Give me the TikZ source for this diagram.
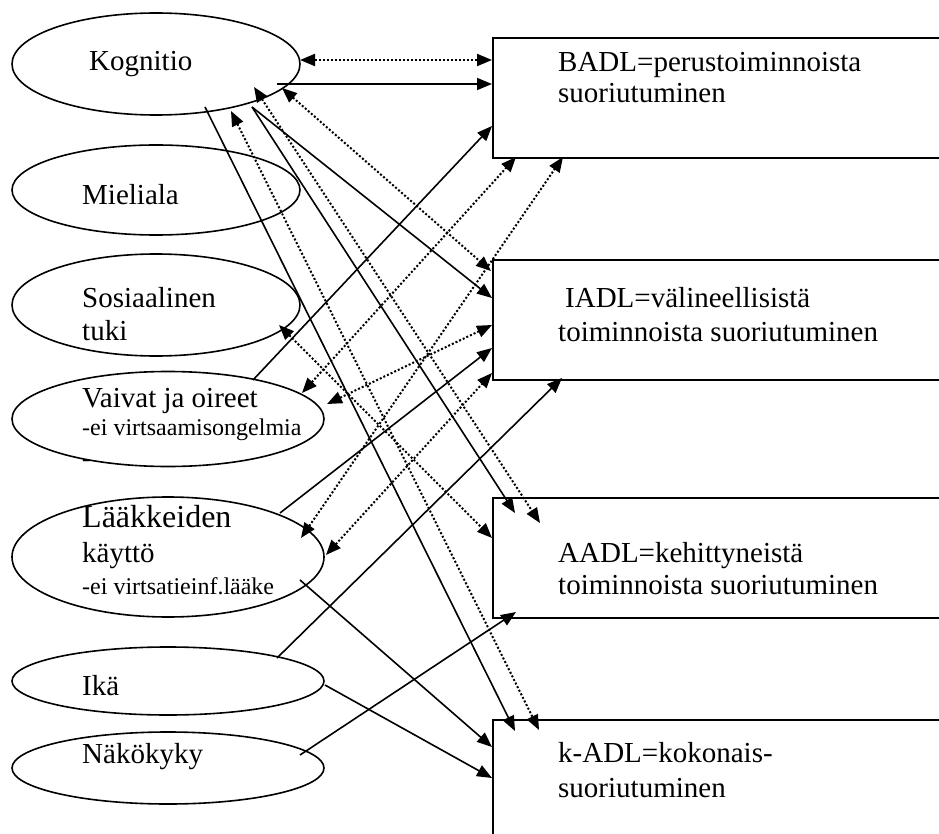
\documentclass[tikz,border=0pt]{standalone}
\usepackage{fontspec}
\setmainfont{Liberation Serif}
\usetikzlibrary{shapes.geometric,arrows.meta,calc}

\begin{document}
\begin{tikzpicture}[x=1pt,y=-1pt,
  factor/.style={ellipse,draw,line width=1.6pt,inner sep=0pt},
  outcome/.style={rectangle,draw,line width=1.6pt,inner sep=0pt,anchor=north west,minimum width=470pt},
  lbl/.style={anchor=base west,inner sep=0pt,font=\fontsize{29}{33}\selectfont},
  lblsmall/.style={anchor=base west,inner sep=0pt,font=\fontsize{24}{27}\selectfont},
  lblbig/.style={anchor=base west,inner sep=0pt,font=\fontsize{32}{36}\selectfont},
  tip/.style={Triangle[length=15pt,width=12pt]},
  effect/.style={line width=1.6pt,-{Triangle[length=15pt,width=12pt]}},
  assoc/.style={line width=2pt,dash pattern=on 2pt off 2pt,
    {Triangle[length=15pt,width=12pt]}-{Triangle[length=15pt,width=12pt]}},
]
\useasboundingbox (0,0) rectangle (939,834);
\fill[white] (0,0) rectangle (939,834);
\clip (0,0) rectangle (939,834);

% explanatory factors
\node[factor,minimum width=288pt,minimum height=102pt] (kog)  at (156,64)  {};
\node[factor,minimum width=288pt,minimum height=90pt]  (miel) at (156,190) {};
\node[factor,minimum width=288pt,minimum height=102pt] (sos)  at (156,305) {};
\node[factor,minimum width=312pt,minimum height=95pt]  (vaiv) at (168,419) {};
\node[factor,minimum width=312pt,minimum height=120pt] (laak) at (168,557) {};
\node[factor,minimum width=312pt,minimum height=68pt]  (ika)  at (168,681) {};
\node[factor,minimum width=312pt,minimum height=72pt]  (nako) at (168,768) {};

\node[lbl] (tkog)  at (89,71)  {Kognitio};
\node[lbl] (tmiel) at (82,205) {Mieliala};
\node[lbl] (tsosa) at (82,307) {Sosiaalinen};
\node[lbl] (tsosb) at (82,340) {tuki};
\node[lbl] (tvaiva) at (82,407) {Vaivat ja oireet};
\node[lblsmall] (tvaivb) at (82,435) {-ei virtsaamisongelmia};
\node[lblsmall] (tvaivc) at (82,466) {-};
\node[lblbig] (tlaaka) at (82,527) {Lääkkeiden};
\node[lbl] (tlaakb) at (82,562) {käyttö};
\node[lblsmall] (tlaakc) at (82,594) {-ei virtsatieinf.lääke};
\node[lbl] (tika)  at (82,695) {Ikä};
\node[lbl] (tnako) at (82,763) {Näkökyky};

% outcome measures
\node[outcome,minimum height=120pt] (badl) at (492,37)  {};
\node[outcome,minimum height=120pt] (iadl) at (492,259) {};
\node[outcome,minimum height=120pt] (aadl) at (492,497) {};
\node[outcome,minimum height=160pt] (kadl) at (492,719) {};

\node[lbl] (tbadla) at (558,72)  {BADL=perustoiminnoista};
\node[lbl] (tbadlb) at (558,103) {suoriutuminen};
\node[lbl] (tiadla) at (565,307) {IADL=välineellisistä};
\node[lbl] (tiadlb) at (558,341) {toiminnoista suoriutuminen};
\node[lbl] (taadla) at (558,562) {AADL=kehittyneistä};
\node[lbl] (taadlb) at (558,594) {toiminnoista suoriutuminen};
\node[lbl] (tkadla) at (558,762) {k-ADL=kokonais-};
\node[lbl] (tkadlb) at (558,797) {suoriutuminen};

% Kognitio
\draw[assoc]  ($(kog)+(144,-4)$) -- ($(badl.north west)+(0,23)$);
\draw[effect] ($(kog)+(121,20)$) -- ($(badl.north west)+(0,47)$);
\draw[assoc]  ($(kog)+(126,24)$) -- ($(iadl.north west)+(-1,12)$);
\draw[assoc]  ($(kog)+(98,23)$)  -- ($(aadl.north west)+(48,26)$);
\draw[assoc]  ($(kog)+(75,47)$)  -- ($(kadl.north west)+(47,11)$);
\draw[effect] ($(kog)+(49,43)$)  -- ($(kadl.north west)+(23,12)$);
\draw[effect] ($(kog)+(96,43)$)  -- ($(aadl.north west)+(23,16)$);
\draw[effect] ($(kog)+(96,43)$)  -- ($(iadl.north west)+(0,39)$);

% Sosiaalinen tuki
\draw[assoc]  ($(sos)+(123,20)$) -- ($(aadl.north west)+(0,41)$);

% Vaivat ja oireet
\draw[effect] ($(vaiv)+(85,-39)$)  -- ($(badl.north west)+(0,89)$);
\draw[assoc]  ($(vaiv)+(134,-26)$) -- ($(badl.north west)+(24,120)$);
\draw[assoc]  ($(vaiv)+(159,-15)$) -- ($(iadl.north west)+(0,66)$);

% Lääkkeiden käyttö
\draw[assoc]  ($(laak)+(133,-19)$) -- ($(badl.north west)+(71,120)$);
\draw[assoc]  ($(laak)+(158,-2)$)  -- ($(iadl.north west)+(0,114)$);
\draw[effect] ($(laak)+(112,-44)$) -- ($(iadl.north west)+(0,89)$);
\draw[effect] ($(laak)+(132,23)$)  -- ($(kadl.north west)+(0,28)$);

% Ikä
\draw[effect] ($(ika)+(109,-23)$) -- ($(iadl.north west)+(70,119)$);
\draw[effect] ($(ika)+(157,4)$)   -- ($(kadl.north west)+(0,59)$);

% Näkökyky
\draw[effect] ($(nako)+(132,-13)$) -- ($(aadl.north west)+(24,115)$);
\end{tikzpicture}
\end{document}
